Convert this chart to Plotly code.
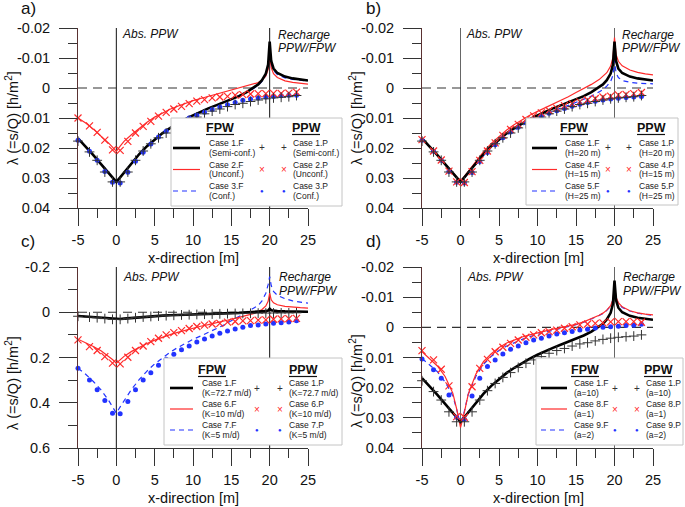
import plotly.graph_objects as go

W, H = 685, 507

# ---------------- data ----------------
X_F = [-5, -4, -3, -2, -1, -0.5, 0, 0.5, 1, 2, 3, 4, 5, 6, 7, 8, 9, 10, 11, 12, 13, 14, 15, 16, 17, 18,
       18.5, 19, 19.5, 19.8, 20, 20.2, 20.5, 21, 22, 23, 24, 25]
X_P = [-5, -3.5, -2.5, -1.5, -0.5, 0.5, 1.5, 2.5, 3.5, 4.5, 5.5, 6.5, 7.5, 8.5, 9.5, 10.5, 11.5, 12.5,
       13.5, 14.5, 15.5, 16.5, 17.5, 18.5, 19.5, 20.5, 21.5, 22.5, 23.5]

CASE1_F = [0.0168, 0.0195, 0.0224, 0.0254, 0.0283, 0.0298, 0.0313, 0.0298, 0.0282, 0.0250, 0.0220, 0.0194,
           0.0171, 0.0151, 0.0134, 0.0118, 0.0104, 0.0091, 0.0079, 0.0068, 0.0058, 0.0048, 0.0038, 0.0027,
           0.0014, -0.0002, -0.0012, -0.0026, -0.0048, -0.0078, -0.0155, -0.0090, -0.0065, -0.0050,
           -0.0038, -0.0032, -0.0028, -0.0025]
CASE2_F = [0.0100, 0.0117, 0.0137, 0.0159, 0.0184, 0.0197, 0.0211, 0.0194, 0.0178, 0.0155, 0.0134, 0.0114,
           0.0097, 0.0083, 0.0071, 0.0061, 0.0051, 0.0042, 0.0035, 0.0028, 0.0021, 0.0014, 0.0008, 0.0002,
           -0.0005, -0.0013, -0.0018, -0.0026, -0.0040, -0.0062, -0.0115, -0.0068, -0.0048, -0.0035,
           -0.0024, -0.0019, -0.0015, -0.0013]
CASE3_F = [0.0167, 0.0194, 0.0223, 0.0253, 0.0282, 0.0297, 0.0312, 0.0297, 0.0281, 0.0249, 0.0219, 0.0193,
           0.0170, 0.0150, 0.0133, 0.0117, 0.0103, 0.0090, 0.0078, 0.0067, 0.0057, 0.0047, 0.0037, 0.0027,
           0.0015, 0.0000, -0.0009, -0.0022, -0.0042, -0.0068, -0.0118, -0.0078, -0.0058, -0.0045,
           -0.0034, -0.0029, -0.0025, -0.0023]
CASE4_F = [0.0168, 0.0195, 0.0224, 0.0254, 0.0283, 0.0297, 0.0311, 0.0295, 0.0278, 0.0244, 0.0212, 0.0185,
           0.0161, 0.0140, 0.0122, 0.0106, 0.0091, 0.0078, 0.0066, 0.0054, 0.0042, 0.0029, 0.0015, 0.0002,
           -0.0012, -0.0028, -0.0038, -0.0051, -0.0073, -0.0102, -0.0168, -0.0112, -0.0089, -0.0074,
           -0.0060, -0.0052, -0.0047, -0.0044]
CASE5_F = [0.0168, 0.0195, 0.0224, 0.0254, 0.0284, 0.0299, 0.0314, 0.0300, 0.0285, 0.0254, 0.0225, 0.0199,
           0.0177, 0.0157, 0.0140, 0.0125, 0.0111, 0.0098, 0.0087, 0.0077, 0.0067, 0.0058, 0.0048, 0.0038,
           0.0027, 0.0013, 0.0005, -0.0006, -0.0022, -0.0042, -0.0092, -0.0050, -0.0035, -0.0025,
           -0.0019, -0.0016, -0.0015, -0.0014]
CASE6_F = [0.119, 0.134, 0.151, 0.170, 0.194, 0.209, 0.225, 0.209, 0.195, 0.173, 0.155, 0.138,
           0.123, 0.110, 0.099, 0.089, 0.079, 0.070, 0.062, 0.055, 0.048, 0.040, 0.031, 0.023,
           0.015, 0.005, -0.002, -0.012, -0.028, -0.048, -0.085, -0.055, -0.042, -0.033,
           -0.026, -0.022, -0.020, -0.018]
CASE7_F = [0.247, 0.274, 0.306, 0.343, 0.390, 0.418, 0.446, 0.418, 0.390, 0.340, 0.297, 0.260,
           0.228, 0.201, 0.177, 0.156, 0.137, 0.120, 0.105, 0.090, 0.075, 0.057, 0.038, 0.019,
           0.001, -0.017, -0.030, -0.050, -0.084, -0.122, -0.158, -0.118, -0.092, -0.075,
           -0.060, -0.050, -0.044, -0.040]
CASE8_F = [0.0081, 0.0103, 0.0128, 0.0163, 0.0218, 0.0270, 0.0332, 0.0282, 0.0222, 0.0155, 0.0113, 0.0087,
           0.0067, 0.0052, 0.0041, 0.0032, 0.0025, 0.0018, 0.0012, 0.0006, 0.0001, -0.0004, -0.0010, -0.0018,
           -0.0028, -0.0040, -0.0047, -0.0057, -0.0072, -0.0092, -0.0138, -0.0100, -0.0082, -0.0068,
           -0.0055, -0.0048, -0.0044, -0.0041]
CASE9_F = [0.0103, 0.0124, 0.0147, 0.0181, 0.0226, 0.0272, 0.0322, 0.0278, 0.0222, 0.0162, 0.0122, 0.0096,
           0.0077, 0.0062, 0.0050, 0.0040, 0.0031, 0.0023, 0.0016, 0.0010, 0.0004, -0.0002, -0.0009, -0.0017,
           -0.0027, -0.0039, -0.0046, -0.0056, -0.0071, -0.0090, -0.0130, -0.0096, -0.0079, -0.0066,
           -0.0054, -0.0047, -0.0043, -0.0040]

CASE1_P = [0.0177, 0.0213, 0.0241, 0.0280, 0.0313, 0.0313, 0.0280, 0.0241, 0.0210, 0.0186, 0.0166, 0.0150,
           0.0133, 0.0119, 0.0108, 0.0097, 0.0086, 0.0077, 0.0070, 0.0062, 0.0055, 0.0051, 0.0045, 0.0040,
           0.0036, 0.0033, 0.0031, 0.0029, 0.0025]
CASE2_P = [0.0100, 0.0126, 0.0148, 0.0174, 0.0206, 0.0208, 0.0178, 0.0150, 0.0128, 0.0111, 0.0094, 0.0081,
           0.0070, 0.0061, 0.0052, 0.0044, 0.0039, 0.0033, 0.0030, 0.0028, 0.0024, 0.0022, 0.0020, 0.0019,
           0.0019, 0.0018, 0.0018, 0.0017, 0.0014]
CASE3_P = [0.0174, 0.0211, 0.0241, 0.0278, 0.0314, 0.0317, 0.0281, 0.0244, 0.0214, 0.0187, 0.0163, 0.0144,
           0.0128, 0.0111, 0.0100, 0.0091, 0.0081, 0.0072, 0.0063, 0.0056, 0.0048, 0.0041, 0.0037, 0.0033,
           0.0030, 0.0028, 0.0026, 0.0024, 0.0024]
CASE4_P = [0.0172, 0.0210, 0.0240, 0.0277, 0.0313, 0.0315, 0.0279, 0.0241, 0.0210, 0.0183, 0.0158, 0.0138,
           0.0121, 0.0105, 0.0093, 0.0083, 0.0075, 0.0067, 0.0059, 0.0052, 0.0046, 0.0040, 0.0035, 0.0030,
           0.0027, 0.0023, 0.0021, 0.0019, 0.0015]
CASE5_P = [0.0174, 0.0211, 0.0241, 0.0278, 0.0314, 0.0317, 0.0282, 0.0245, 0.0215, 0.0189, 0.0166, 0.0147,
           0.0131, 0.0116, 0.0104, 0.0094, 0.0084, 0.0076, 0.0068, 0.0061, 0.0054, 0.0048, 0.0044, 0.0040,
           0.0037, 0.0034, 0.0032, 0.0030, 0.0028]
CASE6_P = [0.122, 0.152, 0.169, 0.196, 0.225, 0.228, 0.199, 0.169, 0.149, 0.130, 0.115, 0.100,
           0.090, 0.081, 0.072, 0.063, 0.057, 0.052, 0.049, 0.044, 0.041, 0.038, 0.037, 0.035,
           0.034, 0.031, 0.029, 0.028, 0.027]
CASE7_P = [0.247, 0.299, 0.343, 0.390, 0.446, 0.449, 0.395, 0.343, 0.299, 0.267, 0.234, 0.208,
           0.186, 0.166, 0.149, 0.131, 0.118, 0.105, 0.093, 0.083, 0.074, 0.066, 0.059, 0.056,
           0.052, 0.049, 0.046, 0.043, 0.038]
CASE8_P = [0.0077, 0.0108, 0.0139, 0.0194, 0.0296, 0.0298, 0.0197, 0.0136, 0.0106, 0.0081, 0.0066, 0.0053,
           0.0042, 0.0033, 0.0025, 0.0018, 0.0014, 0.0009, 0.0003, -0.0002, -0.0008, -0.0011, -0.0013, -0.0015,
           -0.0018, -0.0019, -0.0019, -0.0019, -0.0017]
CASE9_P = [0.0105, 0.0141, 0.0169, 0.0224, 0.0298, 0.0305, 0.0228, 0.0169, 0.0130, 0.0108, 0.0088, 0.0073,
           0.0062, 0.0051, 0.0042, 0.0036, 0.0029, 0.0022, 0.0018, 0.0014, 0.0009, 0.0006, 0.0002, 0.0000,
           -0.0002, -0.0004, -0.0006, -0.0007, -0.0010]

X_TICKS = [-5, 0, 5, 10, 15, 20, 25]
X_TICK_LABELS = ["-5", "0", "5", "10", "15", "20", "25"]
X_MINOR = [-2.5, 2.5, 7.5, 12.5, 17.5, 22.5]
Y_TICKS_S = [-0.02, -0.01, 0, 0.01, 0.02, 0.03, 0.04]
Y_TICK_LABELS_S = ["-0.02", "-0.01", "0", "0.01", "0.02", "0.03", "0.04"]
Y_MINOR_S = [-0.015, -0.005, 0.005, 0.015, 0.025, 0.035]
Y_TICKS_C = [-0.2, 0, 0.2, 0.4, 0.6]
Y_TICK_LABELS_C = ["-0.2", "0", "0.2", "0.4", "0.6"]
Y_MINOR_C = [-0.1, 0.1, 0.3, 0.5]

LEG_A = [("Case 1.F", "(Semi-conf.)", "Case 1.P", "(Semi-conf.)"),
         ("Case 2.F", "(Unconf.)", "Case 2.P", "(Unconf.)"),
         ("Case 3.F", "(Conf.)", "Case 3.P", "(Conf.)")]
LEG_B = [("Case 1.F", "(H=20 m)", "Case 1.P", "(H=20 m)"),
         ("Case 4.F", "(H=15 m)", "Case 4.P", "(H=15 m)"),
         ("Case 5.F", "(H=25 m)", "Case 5.P", "(H=25 m)")]
LEG_C = [("Case 1.F", "(K=72.7 m/d)", "Case 1.P", "(K=72.7 m/d)"),
         ("Case 6.F", "(K=10 m/d)", "Case 6.P", "(K=10 m/d)"),
         ("Case 7.F", "(K=5 m/d)", "Case 7.P", "(K=5 m/d)")]
LEG_D = [("Case 1.F", "(a=10)", "Case 1.P", "(a=10)"),
         ("Case 8.F", "(a=1)", "Case 8.P", "(a=1)"),
         ("Case 9.F", "(a=2)", "Case 9.P", "(a=2)")]

# ---------------- styles ----------------
FONT = "Liberation Sans, Arial, sans-serif"
BLACK, RED, BLUE = "#000000", "#ff2a2a", "#2233ff"
LINE_STYLES = [dict(color=BLACK, width=2.6), dict(color=RED, width=1.2),
               dict(color=BLUE, width=1.2, dash="5px,4px")]
MARK_STYLES = [dict(symbol="cross-thin", size=7, line=dict(color="#333333", width=1)),
               dict(symbol="x-thin", size=7, line=dict(color=RED, width=1.2)),
               dict(symbol="circle", size=5, color=BLUE, line=dict(width=0))]
LEG_GLYPHS = [("+", "#333333", 10), ("×", RED, 10), ("●", BLUE, 6)]


def px(x):
    return x / W


def py(y):
    return 1 - y / H


panels = [
    dict(xa="x", ya="y", xd=(78, 308), yd=(28, 208), yr=[0.04, -0.02],
         yt=(Y_TICKS_S, Y_TICK_LABELS_S, Y_MINOR_S), vcol="#111111",
         F=[CASE1_F, CASE2_F, CASE3_F], P=[CASE1_P, CASE2_P, CASE3_P], leg=LEG_A,
         box=(171, 118, 342, 206), hdr=(220, 306, 128), rows=(148, 169.5, 191),
         cols=(173, 200, 207, 262, 284, 291), lab=("a)", 28, 9), ann_dy=(34, 35, 48),
         abs_x=120, rec_x=276, xt=(193, 258), ytl=(12, 118)),
    dict(xa="x2", ya="y2", xd=(422, 653), yd=(28, 208), yr=[0.04, -0.02],
         yt=(Y_TICKS_S, Y_TICK_LABELS_S, Y_MINOR_S), vcol="#666666",
         F=[CASE1_F, CASE4_F, CASE5_F], P=[CASE1_P, CASE4_P, CASE5_P], leg=LEG_B,
         box=(526, 118, 678, 205), hdr=(574, 651, 128), rows=(148, 169.5, 191),
         cols=(532, 557, 563, 608, 629, 637), lab=("b)", 374, 9), ann_dy=(34, 35, 48),
         abs_x=464, rec_x=620, xt=(538, 258), ytl=(356, 118)),
    dict(xa="x3", ya="y3", xd=(78, 308), yd=(267, 448), yr=[0.6, -0.2],
         yt=(Y_TICKS_C, Y_TICK_LABELS_C, Y_MINOR_C), vcol="#111111",
         F=[CASE1_F, CASE6_F, CASE7_F], P=[CASE1_P, CASE6_P, CASE7_P], leg=LEG_C,
         box=(164, 358, 342, 445), hdr=(212, 303, 370), rows=(388, 409, 430),
         cols=(170, 193, 200, 257, 280, 287), lab=("c)", 28, 241), ann_dy=(277, 277, 291),
         abs_x=121, rec_x=277, xt=(193, 498), ytl=(12, 383)),
    dict(xa="x4", ya="y4", xd=(422, 653), yd=(267, 448), yr=[0.04, -0.02],
         yt=(Y_TICKS_S, Y_TICK_LABELS_S, Y_MINOR_S), vcol="#666666",
         F=[CASE1_F, CASE8_F, CASE9_F], P=[CASE1_P, CASE8_P, CASE9_P], leg=LEG_D,
         box=(536, 358, 683, 445), hdr=(585, 658, 370), rows=(388, 409, 430),
         cols=(541, 567, 572, 615, 637, 644), lab=("d)", 374, 241), ann_dy=(277, 277, 291),
         abs_x=465, rec_x=621, xt=(538, 498), ytl=(356, 381)),
]

fig = go.Figure()
layout = dict(width=W, height=H, margin=dict(l=0, r=0, t=0, b=0, autoexpand=False),
              paper_bgcolor="white", plot_bgcolor="white", showlegend=False,
              font=dict(family=FONT, color="#111111"))
shapes, annotations = [], []

for i, p in enumerate(panels):
    xa, ya = p["xa"], p["ya"]
    xkey = "xaxis" if xa == "x" else "xaxis" + xa[1:]
    ykey = "yaxis" if ya == "y" else "yaxis" + ya[1:]
    layout[xkey] = dict(domain=[px(p["xd"][0]), px(p["xd"][1])], anchor=ya, range=[-5, 25],
                        automargin=False,
                        tickmode="array", tickvals=X_TICKS, ticktext=X_TICK_LABELS,
                        ticks="outside", ticklen=17, tickwidth=1, tickcolor="#333333",
                        showline=True, linecolor="#333333", linewidth=1,
                        showgrid=False, zeroline=False, ticklabelstandoff=2,
                        tickfont=dict(size=14.5, color="#111111", family=FONT),
                        minor=dict(tickmode="array", tickvals=X_MINOR, ticks="outside",
                                   ticklen=9, tickwidth=1, tickcolor="#333333", showgrid=False))
    yt = p["yt"]
    layout[ykey] = dict(domain=[py(p["yd"][1]), py(p["yd"][0])], anchor=xa, range=p["yr"],
                        automargin=False,
                        tickmode="array", tickvals=yt[0], ticktext=yt[1],
                        ticks="outside", ticklen=18, tickwidth=1, tickcolor="#333333",
                        showline=True, linecolor="#5a3232", linewidth=1,
                        showgrid=False, zeroline=False, ticklabelstandoff=6,
                        tickfont=dict(size=14.5, color="#111111", family=FONT),
                        minor=dict(tickmode="array", tickvals=yt[2], ticks="outside",
                                   ticklen=9, tickwidth=1, tickcolor="#333333", showgrid=False))

    # reference lines
    for xv in (0, 20):
        shapes.append(dict(type="line", xref=xa, yref=ya + " domain", x0=xv, x1=xv, y0=0, y1=1,
                           line=dict(color=p["vcol"], width=1), layer="below"))
    shapes.append(dict(type="line", xref=xa, yref=ya, x0=-5, x1=25, y0=0, y1=0,
                       line=dict(color="#333333", width=1.2, dash="9px,6px"), layer="below"))

    # lines: draw blue, red, black (black on top)
    for k in (2, 1, 0):
        fig.add_trace(go.Scatter(x=X_F, y=p["F"][k], mode="lines", line=LINE_STYLES[k],
                                 xaxis=xa, yaxis=ya, hoverinfo="skip"))
    for k in (2, 1, 0):
        fig.add_trace(go.Scatter(x=X_P, y=p["P"][k], mode="markers", marker=MARK_STYLES[k],
                                 xaxis=xa, yaxis=ya, cliponaxis=False, hoverinfo="skip"))

    # legend box
    bx0, by0, bx1, by1 = p["box"]
    shapes.append(dict(type="rect", xref="paper", yref="paper", x0=px(bx0), x1=px(bx1),
                       y0=py(by1), y1=py(by0), line=dict(color="#c4c4c4", width=1),
                       fillcolor="white", layer="above"))
    hx1, hx2, hy = p["hdr"]
    for hx, ht in ((hx1, "FPW"), (hx2, "PPW")):
        annotations.append(dict(xref="paper", yref="paper", x=px(hx), y=py(hy), text="<b>%s</b>" % ht,
                                showarrow=False, xanchor="center", yanchor="middle",
                                font=dict(size=12.5, color="#111111", family=FONT)))
        shapes.append(dict(type="line", xref="paper", yref="paper", x0=px(hx - 14), x1=px(hx + 14),
                           y0=py(hy + 6.5), y1=py(hy + 6.5), line=dict(color="#111111", width=1.2),
                           layer="above"))
    lx0, lx1, tx1, mx1, mx2, tx2 = p["cols"]
    for r, ry in enumerate(p["rows"]):
        st = LINE_STYLES[r]
        shapes.append(dict(type="line", xref="paper", yref="paper", x0=px(lx0), x1=px(lx1),
                           y0=py(ry), y1=py(ry), line=st, layer="above"))
        lab = p["leg"][r]
        for tx, t1, t2 in ((tx1, lab[0], lab[1]), (tx2, lab[2], lab[3])):
            annotations.append(dict(xref="paper", yref="paper", x=px(tx), y=py(ry - 4.6), text=t1,
                                    showarrow=False, xanchor="left", yanchor="middle",
                                    font=dict(size=8.5, color="#222222", family=FONT)))
            annotations.append(dict(xref="paper", yref="paper", x=px(tx), y=py(ry + 4.6), text=t2,
                                    showarrow=False, xanchor="left", yanchor="middle",
                                    font=dict(size=8.5, color="#222222", family=FONT)))
        g, gc, gs = LEG_GLYPHS[r]
        for mx in (mx1, mx2):
            annotations.append(dict(xref="paper", yref="paper", x=px(mx), y=py(ry), text=g,
                                    showarrow=False, xanchor="center", yanchor="middle",
                                    font=dict(size=gs, color=gc, family=FONT)))

    # texts
    lab, lxp, lyp = p["lab"]
    annotations.append(dict(xref="paper", yref="paper", x=px(lxp), y=py(lyp), text=lab, showarrow=False,
                            xanchor="center", yanchor="middle", font=dict(size=17, color="#111111")))
    ay_abs, ay_r1, ay_r2 = p["ann_dy"]
    annotations.append(dict(xref="paper", yref="paper", x=px(p["abs_x"]), y=py(ay_abs), text="<i>Abs. PPW</i>",
                            showarrow=False, xanchor="left", yanchor="middle", font=dict(size=12, color="#111111")))
    annotations.append(dict(xref="paper", yref="paper", x=px(p["rec_x"]), y=py(ay_r1), text="<i>Recharge</i>",
                            showarrow=False, xanchor="left", yanchor="middle", font=dict(size=12, color="#111111")))
    annotations.append(dict(xref="paper", yref="paper", x=px(p["rec_x"]), y=py(ay_r2), text="<i>PPW/FPW</i>",
                            showarrow=False, xanchor="left", yanchor="middle", font=dict(size=12, color="#111111")))
    xtx, xty = p["xt"]
    annotations.append(dict(xref="paper", yref="paper", x=px(xtx), y=py(xty), text="x-direction [m]",
                            showarrow=False, xanchor="center", yanchor="middle", font=dict(size=14.5, color="#111111")))
    ytx, yty = p["ytl"]
    annotations.append(dict(xref="paper", yref="paper", x=px(ytx), y=py(yty), text="λ (=s/Q) [h/m<sup>2</sup>]",
                            showarrow=False, xanchor="center", yanchor="middle", textangle=-90,
                            font=dict(size=14.5, color="#111111")))

layout["shapes"] = shapes
layout["annotations"] = annotations
fig.update_layout(**layout)
fig.write_html("out.html", config={"displayModeBar": False},
               post_script="document.body.style.margin='0';document.body.style.padding='0';")
